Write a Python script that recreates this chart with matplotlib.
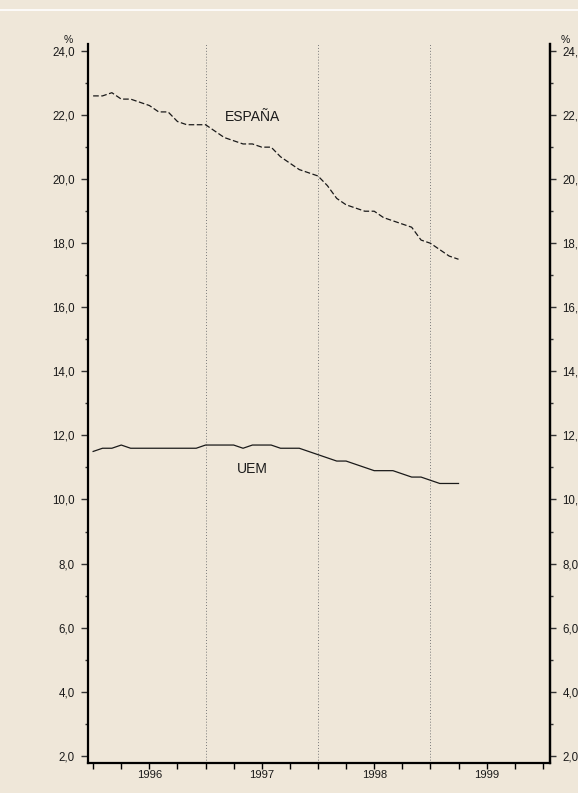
import matplotlib
matplotlib.use("Agg")
import matplotlib.pyplot as plt
from matplotlib.ticker import FixedLocator, FuncFormatter, MultipleLocator
import numpy as np

plt.rcParams['font.family'] = ['Liberation Sans', 'DejaVu Sans']

# Monthly unemployment rate (%), January 1996 - April 1999
start_year = 1996
espana = [22.6, 22.6, 22.7, 22.5, 22.5, 22.4, 22.3, 22.1, 22.1, 21.8, 21.7, 21.7,
          21.7, 21.5, 21.3, 21.2, 21.1, 21.1, 21.0, 21.0, 20.7, 20.5, 20.3, 20.2,
          20.1, 19.8, 19.4, 19.2, 19.1, 19.0, 19.0, 18.8, 18.7, 18.6, 18.5, 18.1,
          18.0, 17.8, 17.6, 17.5]
uem = [11.5, 11.6, 11.6, 11.7, 11.6, 11.6, 11.6, 11.6, 11.6, 11.6, 11.6, 11.6,
       11.7, 11.7, 11.7, 11.7, 11.6, 11.7, 11.7, 11.7, 11.6, 11.6, 11.6, 11.5,
       11.4, 11.3, 11.2, 11.2, 11.1, 11.0, 10.9, 10.9, 10.9, 10.8, 10.7, 10.7,
       10.6, 10.5, 10.5, 10.5]
years = [1996, 1997, 1998, 1999]
year_labels = ["1996", "1997", "1998", "1999"]
y_ticks = [2, 4, 6, 8, 10, 12, 14, 16, 18, 20, 22, 24]

bg = '#EFE7D9'
ink = '#1a1a1a'

x = start_year + np.arange(len(espana)) / 12.0

fig = plt.figure(figsize=(5.78, 7.93), dpi=100, facecolor=bg)
ax = fig.add_axes([0.1522, 0.0383, 0.9516 - 0.1522, 0.9445 - 0.0383])
ax.set_facecolor(bg)

ax.plot(x, espana, color=ink, lw=0.9, linestyle=(0, (4.5, 2)))
ax.plot(x, uem, color=ink, lw=0.9)

# Year separators
for yr in years[1:]:
    ax.axvline(yr, color='#7a7a7a', lw=0.7, linestyle=(0, (1, 2)), zorder=0)

ax.set_xlim(1995.954, 2000.064)
ax.set_ylim(1.785, 24.22)

ax.spines['top'].set_visible(False)
for s in ['left', 'right', 'bottom']:
    ax.spines[s].set_linewidth(1.6)
    ax.spines[s].set_color('black')

# x axis: quarterly ticks, year labels centred on each year
q_ticks = [years[0] + k / 4 for k in range(4 * len(years) + 1)]
ax.xaxis.set_major_locator(FixedLocator(q_ticks))
ax.xaxis.set_major_formatter(FuncFormatter(lambda v, p: ""))
ax.tick_params(axis='x', which='major', direction='out', length=4.5, width=1.0,
               color='black')
for yr, lab in zip(years, year_labels):
    ax.text(yr + 0.5, -0.0100, lab, transform=ax.get_xaxis_transform(),
            ha='center', va='top', fontsize=8.1, color=ink)

fmt = FuncFormatter(lambda v, p: f"{v:.1f}".replace('.', ','))
ax.yaxis.set_major_locator(FixedLocator(y_ticks))
ax.yaxis.set_minor_locator(MultipleLocator(1))
ax.yaxis.set_major_formatter(fmt)
ax.tick_params(axis='y', which='major', direction='out', length=5, width=1.0,
               labelsize=8.3, labelcolor=ink, pad=4.5, color='#333333')
ax.tick_params(axis='y', which='minor', direction='out', length=2.2, width=1.0,
               color='#333333')

ax2 = ax.twinx()
ax2.set_ylim(ax.get_ylim())
ax2.yaxis.set_major_locator(FixedLocator(y_ticks))
ax2.yaxis.set_minor_locator(MultipleLocator(1))
ax2.yaxis.set_major_formatter(fmt)
ax2.tick_params(axis='y', which='major', direction='out', length=4, width=1.0,
                labelsize=8.3, labelcolor=ink, pad=5, color='#333333')
ax2.tick_params(axis='y', which='minor', direction='out', length=2.2, width=1.0,
                color='#333333')
for s in ['top', 'left', 'bottom']:
    ax2.spines[s].set_visible(False)
ax2.spines['right'].set_linewidth(1.6)

# Unit labels above both axes
fig.text(68 / 578, 1 - 40 / 793, "%", ha='center', va='center', fontsize=7.5, color=ink)
fig.text(565 / 578, 1 - 40 / 793, "%", ha='center', va='center', fontsize=7.5, color=ink)

# Series labels
ax.text(1997.42, 21.94, "ESPAÑA", ha='center', va='center', fontsize=10, color=ink)
ax.text(1997.42, 10.95, "UEM", ha='center', va='center', fontsize=10, color=ink)

# Thin white rule near the top edge
fig.add_artist(plt.Line2D([0, 1], [1 - 10 / 793, 1 - 10 / 793], color='white',
                          lw=1.2, transform=fig.transFigure))

fig.savefig("out.png", dpi=100, facecolor=bg)
